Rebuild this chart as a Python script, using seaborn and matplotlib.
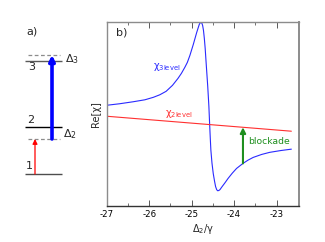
"""
Energy-level scheme (a) and dispersion Re[chi] vs. detuning (b):
three-level response against the two-level background, with the blockade shift.
"""
import numpy as np
import pandas as pd
import matplotlib
matplotlib.use('Agg')
import matplotlib.pyplot as plt
import seaborn as sns

# ---- panel b data (arb. units) ----
detuning_3level = [-27.00, -26.70, -26.38, -26.10, -25.90, -25.75, -25.60, -25.45,
                   -25.32, -25.24, -25.16, -25.10, -25.04, -24.96, -24.88, -24.82,
                   -24.80, -24.78, -24.76, -24.74, -24.72, -24.70, -24.68, -24.66,
                   -24.62, -24.593, -24.576, -24.56, -24.546, -24.52, -24.49, -24.46,
                   -24.435, -24.41, -24.388, -24.36, -24.33, -24.294, -24.21, -24.14,
                   -24.04, -23.94, -23.79, -23.67, -23.55, -23.35, -23.16, -22.90,
                   -22.65]
chi_3level = [1.010, 1.025, 1.045, 1.065, 1.090, 1.115, 1.150, 1.210,
              1.280, 1.330, 1.390, 1.440, 1.510, 1.620, 1.740, 1.820,
              1.835, 1.840, 1.835, 1.810, 1.760, 1.680, 1.580, 1.450,
              1.200, 1.000, 0.830, 0.680, 0.560, 0.430, 0.325, 0.250,
              0.195, 0.165, 0.153, 0.155, 0.165, 0.187, 0.235, 0.277,
              0.330, 0.377, 0.427, 0.460, 0.487, 0.517, 0.538, 0.556,
              0.570]
detuning_2level = [-27.00, -22.65]
chi_2level = [0.90, 0.75]
blockade_x = -23.79
xticks = [-27, -26, -25, -24, -23]

# ---- panel a data (schematic energies, arb. units) ----
level_names = ['1', '2', '3']
level_energy = [0, 47, 113]
virtual_energy = [35, 119]   # dashed lines: Delta_2, Delta_3
virtual_names = ['Δ$_2$', 'Δ$_3$']


def main():
    sns.set_style('ticks')
    plt.rcParams['font.family'] = ['DejaVu Sans']
    plt.rcParams['mathtext.fontset'] = 'dejavusans'

    fig = plt.figure(figsize=(3.25, 2.42), dpi=100)

    # ---------------- panel a: level scheme ----------------
    axa = fig.add_axes([0, 42 / 242, 100 / 325, 180 / 242])
    axa.set_xlim(0, 100)
    axa.set_ylim(-26, 154)
    axa.axis('off')
    level_colors = ['0.3', 'k', '0.35']
    for e, c in zip(level_energy, level_colors):
        axa.hlines(e, 25, 62, colors=c, lw=1.0)
    axa.hlines(virtual_energy, 28, 60, colors='0.55', linestyles=(0, (3, 2)), lw=0.9)

    axa.annotate('', xy=(35, virtual_energy[0]), xytext=(35, level_energy[0]),
                 arrowprops=dict(arrowstyle='-|>', color='red', lw=0.9,
                                 mutation_scale=7, shrinkA=0, shrinkB=0))
    axa.annotate('', xy=(52, virtual_energy[1]), xytext=(52, virtual_energy[0]),
                 arrowprops=dict(arrowstyle='-|>', color='blue', lw=2.6,
                                 mutation_scale=8, shrinkA=0, shrinkB=0))

    axa.text(29.5, level_energy[0] + 8, level_names[0], ha='center', va='center', fontsize=8)
    axa.text(30.5, level_energy[1] + 7, level_names[1], ha='center', va='center', fontsize=8)
    axa.text(32, level_energy[2] - 6.5, level_names[2], ha='center', va='center', fontsize=8)
    axa.text(63, virtual_energy[0] + 2, virtual_names[0], ha='left', va='baseline', fontsize=8)
    axa.text(65, virtual_energy[1] - 7, virtual_names[1], ha='left', va='baseline', fontsize=8)
    axa.text(26, 139, 'a)', ha='left', va='baseline', fontsize=8)

    # ---------------- panel b: dispersion ----------------
    ax = fig.add_axes([106.7 / 325, 36 / 242, 192.3 / 325, 184 / 242])
    d3 = pd.DataFrame({'detuning': detuning_3level, 'chi': chi_3level})
    d2 = pd.DataFrame({'detuning': detuning_2level, 'chi': chi_2level})
    sns.lineplot(data=d3, x='detuning', y='chi', color='#2a2aff', lw=0.8,
                 estimator=None, ax=ax)
    sns.lineplot(data=d2, x='detuning', y='chi', color='#ff3030', lw=0.8,
                 estimator=None, ax=ax)

    lo = np.interp(blockade_x, detuning_3level, chi_3level)
    hi = np.interp(blockade_x, detuning_2level, chi_2level)
    ax.annotate('', xy=(blockade_x, hi), xytext=(blockade_x, lo),
                arrowprops=dict(arrowstyle='-|>', color='#1f8f1f', lw=1.5,
                                mutation_scale=8, shrinkA=0, shrinkB=0))

    ax.text(-25.92, 1.39, 'χ$_{\\mathrm{3level}}$', color='#2a2aff', fontsize=7,
            ha='left', va='center')
    ax.text(-25.63, 0.92, 'χ$_{\\mathrm{2level}}$', color='#ff3030', fontsize=7,
            ha='left', va='center')
    ax.text(-23.68, 0.645, 'blockade', color='#1f8f1f', fontsize=6.7,
            ha='left', va='center')
    ax.text(0.048, 0.924, 'b)', transform=ax.transAxes, fontsize=8,
            ha='left', va='baseline')

    ax.set_xlim(-27, -22.47)
    ax.set_ylim(0, 1.845)
    ax.set_xticks(xticks)
    ax.set_xticklabels([str(t) for t in xticks])
    ax.xaxis.set_minor_locator(matplotlib.ticker.MultipleLocator(0.5))
    ax.tick_params(axis='x', which='both', direction='in', top=True, bottom=True,
                   colors='0.35', labelcolor='k', labelsize=6.2, pad=3)
    ax.tick_params(axis='x', which='major', length=4, width=0.7)
    ax.tick_params(axis='x', which='minor', length=2.5, width=0.6)
    ax.tick_params(axis='y', left=False, labelleft=False)

    ax.set_xlabel('Δ$_2$/γ', fontsize=7, labelpad=2)
    ax.set_ylabel('Re[χ]', fontsize=7, labelpad=4)

    for side in ['left', 'top']:
        ax.spines[side].set_color('0.55')
        ax.spines[side].set_linewidth(1.0)
    ax.spines['right'].set_color('0.55')
    ax.spines['right'].set_linewidth(1.4)
    ax.spines['bottom'].set_color('0.2')
    ax.spines['bottom'].set_linewidth(1.0)

    fig.savefig('out.png', dpi=100)


if __name__ == '__main__':
    main()
